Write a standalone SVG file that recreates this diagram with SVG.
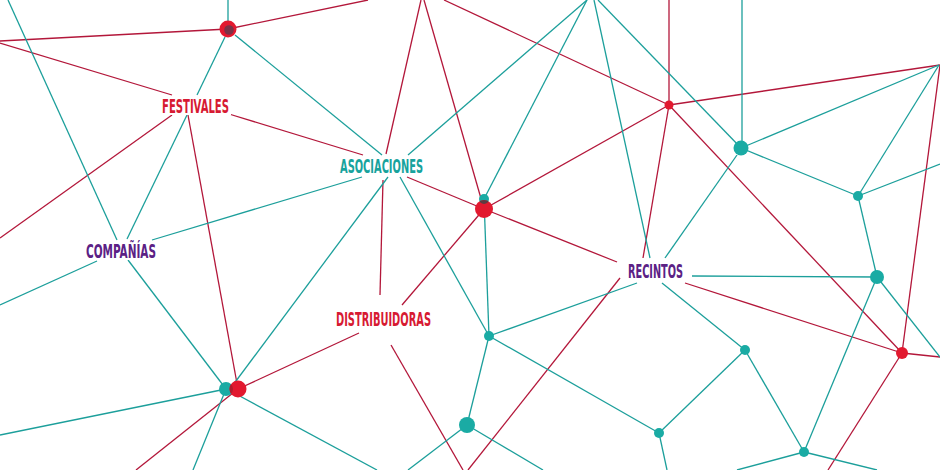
<svg xmlns="http://www.w3.org/2000/svg" width="940" height="470" viewBox="0 0 940 470">
<defs>
<style>
.r{stroke:#b3173a;stroke-width:1.3;fill:none}
.t{stroke:#1c9f9b;stroke-width:1.3;fill:none}
.rn{fill:#e2192f}
.tn{fill:#1aaba4}
.lbl{font-family:"Liberation Sans Narrow","DejaVu Sans Condensed","Liberation Sans",sans-serif;font-weight:bold;font-size:20px;text-anchor:middle}
.bg{fill:#ffffff}
</style>
<clipPath id="cB"><circle cx="484" cy="209" r="9"/></clipPath>
<clipPath id="cA"><circle cx="228" cy="29" r="8.5"/></clipPath>
<clipPath id="cM"><circle cx="238" cy="389" r="8.5"/></clipPath>
</defs>
<rect width="940" height="470" fill="#ffffff"/>
<g id="connectors">
<line class="r" x1="0" y1="41" x2="228" y2="29"/>
<line class="r" x1="228" y1="29" x2="368" y2="0"/>
<line class="r" x1="0" y1="43" x2="172" y2="95"/>
<line class="r" x1="229" y1="114" x2="363" y2="155"/>
<line class="r" x1="172" y1="115" x2="0" y2="238"/>
<line class="r" x1="188" y1="115" x2="238" y2="389"/>
<line class="r" x1="421" y1="0" x2="386" y2="154"/>
<line class="r" x1="383" y1="180" x2="380" y2="295"/>
<line class="r" x1="424" y1="0" x2="484" y2="209"/>
<line class="r" x1="444" y1="0" x2="669" y2="105"/>
<line class="r" x1="669" y1="105" x2="669" y2="0"/>
<line class="r" x1="669" y1="105" x2="940" y2="65"/>
<line class="r" x1="669" y1="105" x2="484" y2="209"/>
<line class="r" x1="669" y1="105" x2="643" y2="258"/>
<line class="r" x1="669" y1="105" x2="902" y2="353"/>
<line class="r" x1="940" y1="65" x2="902" y2="353"/>
<line class="r" x1="902" y1="353" x2="940" y2="357"/>
<line class="r" x1="902" y1="353" x2="828" y2="470"/>
<line class="r" x1="685" y1="283" x2="902" y2="353"/>
<line class="r" x1="484" y1="209" x2="617" y2="262"/>
<line class="r" x1="620" y1="278" x2="468" y2="470"/>
<line class="r" x1="484" y1="209" x2="402" y2="305"/>
<line class="r" x1="407" y1="177" x2="484" y2="209"/>
<line class="r" x1="359" y1="333" x2="238" y2="389"/>
<line class="r" x1="238" y1="389" x2="136" y2="470"/>
<line class="r" x1="391" y1="345" x2="463" y2="470"/>
<line class="t" x1="8" y1="0" x2="117" y2="240"/>
<line class="t" x1="228" y1="29" x2="228" y2="0"/>
<line class="t" x1="225" y1="37" x2="197" y2="95"/>
<line class="t" x1="235" y1="35" x2="382" y2="155"/>
<line class="t" x1="187" y1="115" x2="127" y2="239"/>
<line class="t" x1="362" y1="177" x2="152" y2="240"/>
<line class="t" x1="408" y1="155" x2="587" y2="0"/>
<line class="t" x1="388" y1="177" x2="233" y2="385"/>
<line class="t" x1="400" y1="177" x2="489" y2="336"/>
<line class="t" x1="587" y1="0" x2="484" y2="199"/>
<line class="t" x1="594" y1="0" x2="650" y2="258"/>
<line class="t" x1="598" y1="0" x2="741" y2="148"/>
<line class="t" x1="742" y1="0" x2="742" y2="148" stroke-width="2.6"/>
<line class="t" x1="741" y1="148" x2="939" y2="65"/>
<line class="t" x1="741" y1="148" x2="858" y2="196"/>
<line class="t" x1="737" y1="155" x2="665" y2="258"/>
<line class="t" x1="858" y1="196" x2="939" y2="65"/>
<line class="t" x1="858" y1="196" x2="940" y2="164"/>
<line class="t" x1="858" y1="196" x2="877" y2="277"/>
<line class="t" x1="692" y1="276" x2="877" y2="277"/>
<line class="t" x1="877" y1="277" x2="804" y2="452"/>
<line class="t" x1="877" y1="277" x2="940" y2="357"/>
<line class="t" x1="637" y1="283" x2="489" y2="336"/>
<line class="t" x1="662" y1="283" x2="745" y2="350"/>
<line class="t" x1="484" y1="199" x2="489" y2="336"/>
<line class="t" x1="489" y1="336" x2="467" y2="425"/>
<line class="t" x1="489" y1="336" x2="659" y2="433"/>
<line class="t" x1="745" y1="350" x2="659" y2="433"/>
<line class="t" x1="745" y1="350" x2="804" y2="452"/>
<line class="t" x1="659" y1="433" x2="667" y2="470"/>
<line class="t" x1="804" y1="452" x2="737" y2="470"/>
<line class="t" x1="804" y1="452" x2="877" y2="470"/>
<line class="t" x1="467" y1="425" x2="408" y2="470"/>
<line class="t" x1="467" y1="425" x2="543" y2="470"/>
<line class="t" x1="226" y1="389" x2="0" y2="435"/>
<line class="t" x1="226" y1="389" x2="128" y2="260"/>
<line class="t" x1="226" y1="389" x2="193" y2="470"/>
<line class="t" x1="236" y1="394" x2="377" y2="470"/>
<line class="t" x1="97" y1="261" x2="0" y2="305"/>
</g>
<g id="node-a">
<circle class="rn" cx="228" cy="29" r="8.5"/>
<circle cx="229" cy="30" r="4.8" fill="#7a3347"/>
</g>
<g id="node-b">
<circle class="tn" cx="484" cy="199" r="5"/>
<circle class="rn" cx="484" cy="209" r="9"/>
<circle cx="484" cy="199" r="5" fill="#5e3b42" clip-path="url(#cB)"/>
</g>
<g id="node-c"><circle class="rn" cx="669" cy="105" r="4.5"/></g>
<g id="node-d"><circle class="tn" cx="741" cy="148" r="7.5"/></g>
<g id="node-e"><circle class="tn" cx="858" cy="196" r="5"/></g>
<g id="node-f"><circle class="tn" cx="877" cy="277" r="7"/></g>
<g id="node-g"><circle class="rn" cx="902" cy="353" r="6"/></g>
<g id="node-h"><circle class="tn" cx="489" cy="336" r="5"/></g>
<g id="node-i"><circle class="tn" cx="745" cy="350" r="5"/></g>
<g id="node-j"><circle class="tn" cx="659" cy="433" r="5"/></g>
<g id="node-k"><circle class="tn" cx="804" cy="452" r="5"/></g>
<g id="node-l"><circle class="tn" cx="467" cy="425" r="8"/></g>
<g id="node-m">
<circle class="tn" cx="226" cy="389" r="7"/>
<circle class="rn" cx="238" cy="389" r="8.5"/>
<circle cx="226" cy="389" r="7" fill="#b01d2e" clip-path="url(#cM)"/>
</g>
<g id="festivales">
<rect class="bg" x="160" y="96" width="71" height="19"/>
<text class="lbl" x="195.5" y="113" fill="#d71a32" textLength="67" lengthAdjust="spacingAndGlyphs">FESTIVALES</text>
</g>
<g id="asociaciones">
<rect class="bg" x="338" y="156" width="87" height="19"/>
<text class="lbl" x="381.5" y="173" fill="#17a39d" textLength="83" lengthAdjust="spacingAndGlyphs">ASOCIACIONES</text>
</g>
<g id="companias">
<rect class="bg" x="84" y="241" width="74" height="19"/>
<text class="lbl" x="121" y="258" fill="#5b2185" textLength="70" lengthAdjust="spacingAndGlyphs">COMPAÑÍAS</text>
</g>
<g id="distribuidoras">
<rect class="bg" x="334" y="309" width="99" height="19"/>
<text class="lbl" x="383.5" y="326" fill="#d71a32" textLength="95" lengthAdjust="spacingAndGlyphs">DISTRIBUIDORAS</text>
</g>
<g id="recintos">
<rect class="bg" x="626" y="262" width="59" height="18"/>
<text class="lbl" x="655.5" y="278" fill="#5b2185" textLength="55" lengthAdjust="spacingAndGlyphs">RECINTOS</text>
</g>
</svg>
